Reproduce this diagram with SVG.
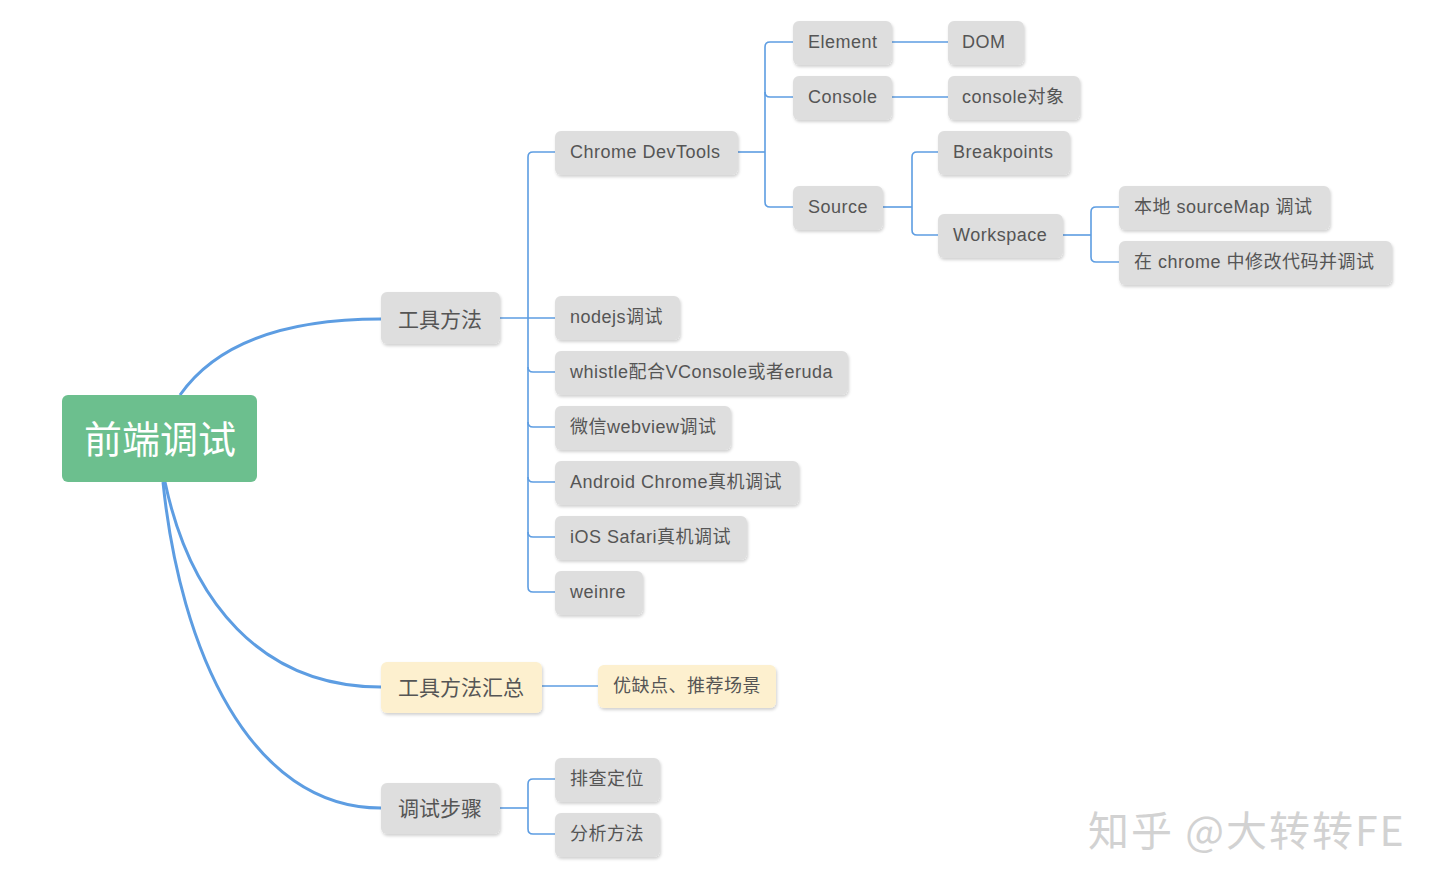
<svg xmlns="http://www.w3.org/2000/svg" width="1440" height="889" viewBox="0 0 1440 889">
<defs>
<filter id="sh" x="-10%" y="-20%" width="130%" height="160%">
<feDropShadow dx="1" dy="2" stdDeviation="1.5" flood-color="#000" flood-opacity="0.18"/>
</filter>
<style>
.n{fill:#dedede;filter:url(#sh)}
.y{fill:#fdf0cf;filter:url(#sh)}
.t{font-family:"Liberation Sans","Noto Sans CJK SC",sans-serif;font-size:18px;letter-spacing:0.5px;fill:#555}
.t2{font-family:"Liberation Sans","Noto Sans CJK SC",sans-serif;font-size:21px;fill:#555}
.c{fill:none;stroke:#5d9de2;stroke-width:1.6}
.cm{fill:none;stroke:#5d9de2;stroke-width:3}
</style>
</defs>
<rect width="1440" height="889" fill="#fff"/>
<g id="connectors">
<path class="cm" d="M180,395 C215,345 280,319 381,319"/>
<path class="cm" d="M165,482 C190,600 260,687 381,687"/>
<path class="cm" d="M163,482 C180,650 250,808 381,808"/>
<path class="c" d="M500,318 H555"/>
<path class="c" d="M555,152 H533 Q528,152 528,157 V587 Q528,592 533,592 H555"/>
<path class="c" d="M528,367 Q528,372 533,372 H555 M528,422 Q528,427 533,427 H555 M528,477 Q528,482 533,482 H555 M528,532 Q528,537 533,537 H555"/>
<path class="c" d="M738,152 H765"/>
<path class="c" d="M793,42 H770 Q765,42 765,47 V202 Q765,207 770,207 H793"/>
<path class="c" d="M765,92 Q765,97 770,97 H793"/>
<path class="c" d="M892,42 H948 M892,97 H948"/>
<path class="c" d="M883,207 H912"/>
<path class="c" d="M938,152 H917 Q912,152 912,157 V230 Q912,235 917,235 H938"/>
<path class="c" d="M1063,235 H1091"/>
<path class="c" d="M1119,207 H1096 Q1091,207 1091,212 V257 Q1091,262 1096,262 H1119"/>
<path class="c" d="M542,686 H598"/>
<path class="c" d="M500,808 H528"/>
<path class="c" d="M555,779 H533 Q528,779 528,784 V829 Q528,834 533,834 H555"/>
</g>
<g id="root">
<rect x="62" y="395" width="195" height="87" rx="6" fill="#6cbf8e"/>
<text x="160" y="453" text-anchor="middle" font-family="Liberation Sans,'Noto Sans CJK SC',sans-serif" font-size="38" fill="#fff">前端调试</text>
</g>
<g id="n-tools"><rect class="n" x="381" y="292" width="119" height="52" rx="6"/><text class="t2" x="440" y="327" text-anchor="middle">工具方法</text></g>
<g id="n-summary"><rect class="y" x="381" y="662" width="161" height="51" rx="6"/><text class="t2" x="461" y="695" text-anchor="middle">工具方法汇总</text></g>
<g id="n-steps"><rect class="n" x="381" y="783" width="119" height="51" rx="6"/><text class="t2" x="440" y="816" text-anchor="middle">调试步骤</text></g>
<g id="n-devtools"><rect class="n" x="555" y="131" width="183" height="44" rx="6"/><text class="t" x="570" y="158">Chrome DevTools</text></g>
<g id="n-nodejs"><rect class="n" x="555" y="296" width="125" height="44" rx="6"/><text class="t" x="570" y="323">nodejs调试</text></g>
<g id="n-whistle"><rect class="n" x="555" y="351" width="293" height="44" rx="6"/><text class="t" x="570" y="378">whistle配合VConsole或者eruda</text></g>
<g id="n-wechat"><rect class="n" x="555" y="406" width="176" height="44" rx="6"/><text class="t" x="570" y="433">微信webview调试</text></g>
<g id="n-android"><rect class="n" x="555" y="461" width="244" height="44" rx="6"/><text class="t" x="570" y="488">Android Chrome真机调试</text></g>
<g id="n-ios"><rect class="n" x="555" y="516" width="192" height="44" rx="6"/><text class="t" x="570" y="543">iOS Safari真机调试</text></g>
<g id="n-weinre"><rect class="n" x="555" y="571" width="88" height="44" rx="6"/><text class="t" x="570" y="598">weinre</text></g>
<g id="n-pros"><rect class="y" x="598" y="665" width="178" height="43" rx="6"/><text class="t" x="613" y="692">优缺点、推荐场景</text></g>
<g id="n-locate"><rect class="n" x="555" y="758" width="105" height="44" rx="6"/><text class="t" x="570" y="785">排查定位</text></g>
<g id="n-analyze"><rect class="n" x="555" y="813" width="105" height="44" rx="6"/><text class="t" x="570" y="840">分析方法</text></g>
<g id="n-element"><rect class="n" x="793" y="21" width="99" height="44" rx="6"/><text class="t" x="808" y="48">Element</text></g>
<g id="n-console"><rect class="n" x="793" y="76" width="99" height="44" rx="6"/><text class="t" x="808" y="103">Console</text></g>
<g id="n-source"><rect class="n" x="793" y="186" width="90" height="44" rx="6"/><text class="t" x="808" y="213">Source</text></g>
<g id="n-dom"><rect class="n" x="948" y="21" width="76" height="44" rx="6"/><text class="t" x="962" y="48">DOM</text></g>
<g id="n-consoleobj"><rect class="n" x="948" y="76" width="132" height="44" rx="6"/><text class="t" x="962" y="103">console对象</text></g>
<g id="n-breakpoints"><rect class="n" x="938" y="131" width="132" height="44" rx="6"/><text class="t" x="953" y="158">Breakpoints</text></g>
<g id="n-workspace"><rect class="n" x="938" y="214" width="125" height="44" rx="6"/><text class="t" x="953" y="241">Workspace</text></g>
<g id="n-sourcemap"><rect class="n" x="1119" y="186" width="211" height="44" rx="6"/><text class="t" x="1134" y="213">本地 sourceMap 调试</text></g>
<g id="n-modify"><rect class="n" x="1119" y="241" width="273" height="44" rx="6"/><text class="t" x="1134" y="268">在 chrome 中修改代码并调试</text></g>
<text x="1088" y="846" font-family="'Noto Sans CJK SC',sans-serif" font-size="41" letter-spacing="2" fill="#d2d2d2">知乎 @大转转FE</text>
</svg>
